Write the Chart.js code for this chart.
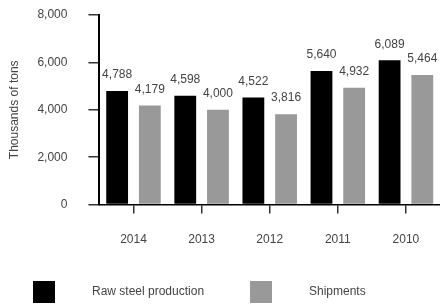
<!DOCTYPE html>
<html>
<head>
<meta charset="utf-8">
<script src="https://cdn.jsdelivr.net/npm/chart.js@4"></script>
<style>
  html, body { margin: 0; padding: 0; background: #fff; }
  #wrap { width: 440px; height: 306px; }
</style>
</head>
<body>
<div id="wrap"><canvas id="myChart" width="440" height="306"></canvas></div>
<script>
var years = ["2014", "2013", "2012", "2011", "2010"];
var rawSteel = [4788, 4598, 4522, 5640, 6089];
var shipments = [4179, 4000, 3816, 4932, 5464];
var yTicks = [0, 2000, 4000, 6000, 8000];

var fontFamily = "'Liberation Sans', Arial, sans-serif";
var textColor = "#444";

// value labels above each bar
var valueLabels = {
	id: "valueLabels",
	afterDatasetsDraw: function (chart) {
		var ctx = chart.ctx;
		ctx.save();
		ctx.font = "12px " + fontFamily;
		ctx.fillStyle = textColor;
		ctx.textAlign = "center";
		ctx.textBaseline = "middle";
		chart.data.datasets.forEach(function (ds, i) {
			chart.getDatasetMeta(i).data.forEach(function (bar, j) {
				ctx.fillText(ds.data[j].toLocaleString("en-US"), bar.x, bar.y - 16);
			});
		});
		ctx.restore();
	},
};

// legend along the bottom, big boxes and wide gaps
var bottomLegend = {
	id: "bottomLegend",
	afterDraw: function (chart) {
		var ctx = chart.ctx;
		var xs = [33, 250];
		ctx.save();
		ctx.font = "12px " + fontFamily;
		ctx.textBaseline = "middle";
		ctx.textAlign = "left";
		chart.data.datasets.forEach(function (ds, i) {
			ctx.fillStyle = ds.backgroundColor;
			ctx.fillRect(xs[i], 281, 22, 22);
			ctx.fillStyle = textColor;
			ctx.fillText(ds.label, xs[i] + 59, 292);
		});
		ctx.restore();
	},
};

var ctx = document.getElementById("myChart").getContext("2d");

var graphData = {
	type: "bar",
	data: {
		labels: years,
		datasets: [
			{
				label: "Raw steel production",
				data: rawSteel,
				backgroundColor: "#000000",
				barPercentage: 0.667,
				categoryPercentage: 0.96,
			},
			{
				label: "Shipments",
				data: shipments,
				backgroundColor: "#999999",
				barPercentage: 0.667,
				categoryPercentage: 0.96,
			},
		],
	},
	options: {
		responsive: false,
		animation: false,
		layout: { padding: { top: 15, right: 0, bottom: 40, left: 7 } },
		plugins: {
			legend: { display: false },
			tooltip: { enabled: false },
		},
		scales: {
			x: {
				grid: {
					offset: false,
					drawOnChartArea: false,
					drawTicks: true,
					tickLength: 9,
					color: "#333",
					lineWidth: 1.5,
				},
				border: { color: "#000", width: 1.5 },
				ticks: {
					color: textColor,
					font: { family: fontFamily, size: 12 },
					padding: 19,
				},
			},
			y: {
				min: 0,
				max: 8000,
				afterBuildTicks: function (axis) {
					axis.ticks = yTicks.map(function (v) { return { value: v }; });
				},
				// tick padding is otherwise added above the top tick
				afterFit: function (axis) {
					axis.paddingTop = 0;
					axis.paddingBottom = 0;
				},
				grid: {
					drawOnChartArea: false,
					drawTicks: true,
					tickLength: 11,
					color: "#333",
					lineWidth: 1.5,
				},
				border: { color: "#000", width: 2 },
				ticks: {
					color: textColor,
					font: { family: fontFamily, size: 12 },
					padding: 21,
					callback: function (v) { return v.toLocaleString("en-US"); },
				},
				title: {
					display: true,
					text: "Thousands of tons",
					color: textColor,
					font: { family: fontFamily, size: 12 },
					padding: { top: 0, bottom: -5 },
				},
			},
		},
	},
	plugins: [valueLabels, bottomLegend],
};

var myChart = new Chart(ctx, graphData);
</script>
</body>
</html>
